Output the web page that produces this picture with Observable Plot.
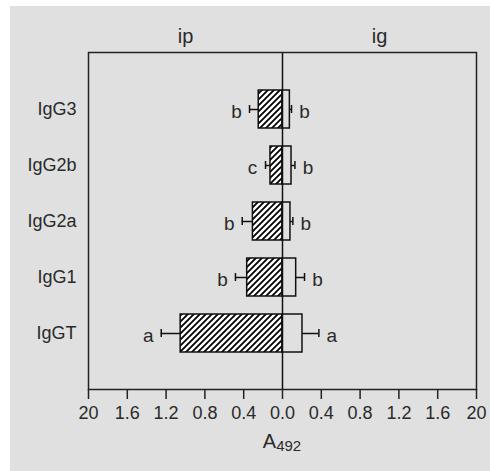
<!DOCTYPE html>
<html>
<head>
<meta charset="utf-8">
<script src="https://cdn.jsdelivr.net/npm/d3@7"></script>
<script src="https://cdn.jsdelivr.net/npm/@observablehq/plot@0.6"></script>
<style>
  html, body { margin: 0; padding: 0; background: #ffffff; }
  #wrap { position: absolute; left: 10px; top: 6px; width: 480px; height: 465px; background: #e0e0e0; }
  #wrap svg { display: block; background: transparent; }
</style>
</head>
<body>
<div id="wrap"></div>
<script>
// Categories, top to bottom
const categories = ["IgG3", "IgG2b", "IgG2a", "IgG1", "IgGT"];
// ip (left, hatched) means and error
const ipMean = [0.245, 0.124, 0.305, 0.364, 1.05];
const ipErr  = [0.095, 0.051, 0.110, 0.121, 0.20];
const ipLetters = ["b", "c", "b", "b", "a"];
// ig (right, open) means and error
const igMean = [0.076, 0.093, 0.082, 0.141, 0.206];
const igErr  = [0.017, 0.035, 0.025, 0.086, 0.169];
const igLetters = ["b", "b", "b", "b", "a"];
// x tick values and labels
const tickValues = [-2.0, -1.6, -1.2, -0.8, -0.4, 0.0, 0.4, 0.8, 1.2, 1.6, 2.0];
const tickLabels = ["20", "1.6", "1.2", "0.8", "0.4", "0.0", "0.4", "0.8", "1.2", "1.6", "20"];
const panelTitles = ["ip", "ig"];
const panelCenters = [-1, 1];

const ip = categories.map((c, i) => ({cat: c, lo: -ipMean[i], hi: 0, end: -(ipMean[i] + ipErr[i]), letter: ipLetters[i]}));
const ig = categories.map((c, i) => ({cat: c, lo: 0, hi: igMean[i], end: igMean[i] + igErr[i], letter: igLetters[i]}));

const font = "Liberation Sans, Arial, sans-serif";
const ink = "#2a2a2a";

const chart = Plot.plot({
  width: 480,
  height: 465,
  marginLeft: 78,
  marginRight: 14,
  marginTop: 46,
  marginBottom: 82,
  style: {fontFamily: font, background: "transparent", color: ink},
  x: {domain: [-2, 2]},
  y: {domain: categories, type: "band", paddingInner: 0.33, paddingOuter: 0.665},
  marks: [
    // error bar stems
    Plot.ruleY(ip, {y: "cat", x1: "lo", x2: "end", stroke: "#111", strokeWidth: 1.5}),
    Plot.ruleY(ig, {y: "cat", x1: "hi", x2: "end", stroke: "#111", strokeWidth: 1.5}),
    // caps
    Plot.tickX(ip, {y: "cat", x: "end", stroke: "#111", strokeWidth: 1.5, insetTop: 15, insetBottom: 15}),
    Plot.tickX(ig, {y: "cat", x: "end", stroke: "#111", strokeWidth: 1.5, insetTop: 15, insetBottom: 15}),
    // bars
    Plot.barX(ip, {y: "cat", x1: "lo", x2: "hi", fill: "url(#hatch)", stroke: "#111", strokeWidth: 1.5}),
    Plot.barX(ig, {y: "cat", x1: "lo", x2: "hi", fill: "none", stroke: "#111", strokeWidth: 1.5}),
    // letters
    Plot.text(ip, {y: "cat", x: "end", text: "letter", dx: -13, dy: 2, fontSize: 19, fill: ink}),
    Plot.text(ig, {y: "cat", x: "end", text: "letter", dx: 13, dy: 2, fontSize: 19, fill: ink}),
    // zero line and frame
    Plot.ruleX([0], {stroke: "#111", strokeWidth: 1.5}),
    Plot.frame({stroke: "#222", strokeWidth: 1.5}),
    // panel titles
    Plot.text(panelTitles, {x: (d, i) => panelCenters[i], frameAnchor: "top", lineAnchor: "middle", dy: -16, fontSize: 20, fill: ink}),
    // axes
    Plot.axisX({
      ticks: tickValues,
      tickFormat: (d, i) => tickLabels[i],
      tickSize: 10,
      tickPadding: 7,
      fontSize: 18,
      label: null,
      stroke: "#222",
      strokeWidth: 1.5
    }),
    Plot.axisY({tickSize: 0, tickPadding: 12, fontSize: 18, label: null})
  ]
});

const svg = d3.select(chart);
svg.insert("defs", ":first-child").html(
  '<pattern id="hatch" patternUnits="userSpaceOnUse" width="6" height="6">' +
  '<rect width="6" height="6" fill="#ffffff"></rect>' +
  '<path d="M-1,1 l2,-2 M0,6 l6,-6 M5,7 l2,-2" stroke="#000" stroke-width="1.8"></path>' +
  '</pattern>'
);

// x axis title with subscript
const xs = chart.scale("x");
const t = svg.append("text")
  .attr("x", xs.apply(0))
  .attr("y", 442)
  .attr("text-anchor", "middle")
  .attr("font-family", font)
  .attr("font-size", 20)
  .attr("fill", ink);
t.append("tspan").text("A");
t.append("tspan").attr("font-size", 15).attr("dy", 3).text("492");

document.getElementById("wrap").appendChild(chart);
</script>
</body>
</html>
